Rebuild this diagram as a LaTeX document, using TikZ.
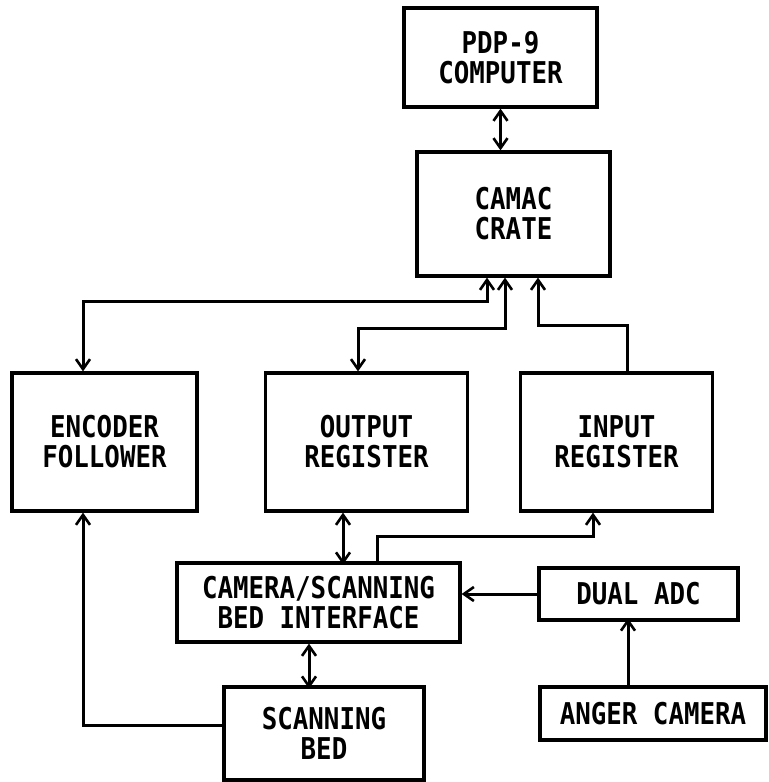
\documentclass[tikz,border=0pt]{standalone}
\usepackage{fontspec}
\newfontfamily\stencil{DejaVu Sans Mono}[FakeStretch=0.86]
\usetikzlibrary{arrows.meta,calc}
\tikzset{
  unit/.style={draw, line width=1.6pt, inner sep=0pt, align=center,
               font=\stencil\bfseries\fontsize{15}{15}\selectfont},
  link/.style={line width=1.5pt, line join=miter},
  tip/.style={-{Straight Barb[length=5pt,width=7pt,line width=1.3pt]}},
  twotip/.style={{Straight Barb[length=5pt,width=7pt,line width=1.3pt]}-{Straight Barb[length=5pt,width=7pt,line width=1.3pt]}},
}
\begin{document}
\begin{tikzpicture}[x=0.5pt,y=-0.5pt]
    \useasboundingbox (0,0) rectangle (768,782);
    % crate side
    \node[unit, minimum width=96.5pt, minimum height=49.5pt] (pdp)   at (500.5,57.5) {PDP-9\\COMPUTER};
    \node[unit, minimum width=96.5pt, minimum height=62pt]   (camac) at (513.5,214)  {CAMAC\\CRATE};
    \node[unit, minimum width=92.5pt, minimum height=69pt]   (enc)    at (104.5,442) {ENCODER\\FOLLOWER};
    \node[unit, minimum width=101pt,  minimum height=69pt]   (outreg) at (366.5,442) {OUTPUT\\REGISTER};
    \node[unit, minimum width=96pt,   minimum height=69pt]   (inreg)  at (616.5,442) {INPUT\\REGISTER};
    % camera side
    \node[unit, minimum width=141.5pt, minimum height=39.5pt] (iface) at (318.5,602.5) {CAMERA/SCANNING\\BED INTERFACE};
    \node[unit, minimum width=99.5pt,  minimum height=26pt]   (adc)   at (638.5,594)   {DUAL ADC};
    \node[unit, minimum width=100pt,   minimum height=46.5pt] (bed)   at (324,733.5)   {SCANNING\\BED};
    \node[unit, minimum width=113pt,   minimum height=26.5pt] (anger) at (653,713.5)   {ANGER CAMERA};
    \draw[link, twotip] (pdp.south) -- (pdp.south |- camac.north);
    \draw[link, twotip] ($(camac.south)+(-26.5,0)$) -- ++(0,24) -| ($(enc.north)+(-21.5,0)$);
    \draw[link, twotip] ($(camac.south)+(-8.5,0)$) -- ++(0,51) -| ($(outreg.north)+(-8.5,0)$);
    \draw[link, tip] ($(inreg.north)+(10.5,0)$) -- ++(0,-46) -| ($(camac.south)+(24.5,0)$);
    \draw[link, twotip] ($(outreg.south)+(-23.5,0)$) -- ++(0,52);
    \draw[link, tip] ($(iface.north)+(58.5,0)$) -- ++(0,-25) -| ($(inreg.south)+(-23.5,0)$);
    \draw[link, tip] (adc.west) -- (adc.west -| iface.east);
    \draw[link, tip] ($(anger.north)+(-25,0)$) -- ++(0,-67);
    \draw[link, twotip] ($(iface.south)+(-9.5,0)$) -- ++(0,45);
    \draw[link, tip] ($(bed.west)+(0,-8.5)$) -| ($(enc.south)+(-21.5,0)$);
\end{tikzpicture}
\end{document}
